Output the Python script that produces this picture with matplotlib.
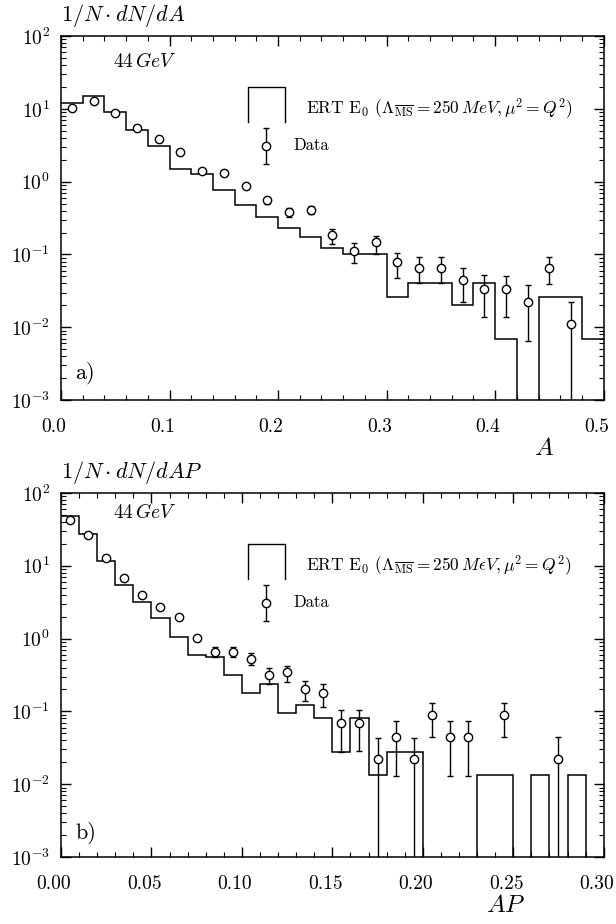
import numpy as np
import matplotlib
matplotlib.use("Agg")
import matplotlib.pyplot as plt
import matplotlib.transforms as mtransforms
from matplotlib.ticker import LogLocator, MultipleLocator, NullFormatter, FormatStrFormatter

plt.rcParams.update({
    'font.family': 'serif',
    'font.serif': ['cmr10', 'DejaVu Serif'],
    'mathtext.fontset': 'cm',
    'axes.formatter.use_mathtext': True,
    'font.size': 13,
    'axes.linewidth': 1.1,
})

# ── panel a: A distribution (bin width 0.02) ──
a_edges = np.arange(0, 0.5001, 0.02)
a_mc = [12.1, 15.1, 9.1, 5.1, 3.1, 1.49, 1.27, 0.77, 0.477, 0.323, 0.228, 0.172, 0.121,
        0.101, 0.101, 0.0263, 0.0401, 0.0401, 0.0202, 0.0401, 0.0068, 0.0, 0.0263, 0.0263, 0.0068]
a_x = [0.01, 0.03, 0.05, 0.07, 0.09, 0.11, 0.13, 0.15, 0.17, 0.19, 0.21, 0.23,
       0.25, 0.27, 0.29, 0.31, 0.33, 0.35, 0.37, 0.39, 0.41, 0.43, 0.45, 0.47]
a_val = [10.4, 12.9, 8.7, 5.5, 3.85, 2.58, 1.41, 1.30, 0.87, 0.558, 0.378, 0.407,
         0.185, 0.112, 0.147, 0.078, 0.066, 0.066, 0.0445, 0.0331, 0.0331, 0.022, 0.066, 0.011]
a_lo = [9.9, 12.2, 8.3, 5.25, 3.65, 2.45, 1.33, 1.22, 0.81, 0.50, 0.33, 0.36,
        0.138, 0.077, 0.101, 0.048, 0.040, 0.040, 0.0224, 0.0139, 0.0139, 0.0065, 0.0397, 0.0]
a_hi = [10.9, 13.6, 9.1, 5.75, 4.05, 2.71, 1.49, 1.38, 0.93, 0.62, 0.43, 0.46,
        0.223, 0.145, 0.18, 0.105, 0.093, 0.093, 0.0656, 0.052, 0.051, 0.038, 0.093, 0.022]

# ── panel b: AP distribution (bin width 0.01) ──
b_edges = np.arange(0, 0.3001, 0.01)
b_mc = [48.8, 27.4, 11.7, 5.45, 3.21, 1.94, 1.06, 0.595, 0.553, 0.316, 0.181, 0.238, 0.094,
        0.122, 0.080, 0.0274, 0.080, 0.0134, 0.0274, 0.0274, 0.0, 0.0, 0.0, 0.0134, 0.0134,
        0.0, 0.0134, 0.0, 0.0134, 0.0]
b_x = [0.005, 0.015, 0.025, 0.035, 0.045, 0.055, 0.065, 0.075, 0.085, 0.095, 0.105, 0.115,
       0.125, 0.135, 0.145, 0.155, 0.165, 0.175, 0.185, 0.195, 0.205, 0.215, 0.225, 0.245, 0.275]
b_val = [42.6, 26.5, 12.7, 6.87, 3.97, 2.75, 2.0, 1.03, 0.65, 0.66, 0.52, 0.316, 0.351,
         0.203, 0.177, 0.0686, 0.0686, 0.0222, 0.044, 0.0222, 0.089, 0.044, 0.044, 0.089, 0.0222]
b_lo = [40.5, 25.2, 12.1, 6.5, 3.75, 2.6, 1.88, 0.96, 0.553, 0.553, 0.44, 0.235, 0.25,
        0.139, 0.114, 0.028, 0.0283, 0.0, 0.013, 0.0, 0.044, 0.013, 0.013, 0.044, 0.0]
b_hi = [44.8, 27.8, 13.3, 7.25, 4.2, 2.9, 2.12, 1.1, 0.775, 0.775, 0.63, 0.39, 0.425,
        0.262, 0.238, 0.105, 0.104, 0.0437, 0.074, 0.0437, 0.132, 0.074, 0.074, 0.132, 0.044]

ert_a = r'ERT E$_0$ ($\Lambda_{\overline{\rm MS}} = 250\,MeV, \mu^2 = Q^2$)'
ert_b = r'ERT E$_0$ ($\Lambda_{\overline{\rm MS}} = 250\,M\epsilon V, \mu^2 = Q^2$)'

pt_style = dict(fmt='o', ms=6, mfc='white', mec='black', mew=1.0, ecolor='black',
                elinewidth=1.0, capsize=2.5, capthick=1.0)


def draw_panel(ax, edges, mc, x, val, lo, hi, xmax, major, minor, fmt,
               ylab, xlab, xlab_pos, tag, tag_y, gev_y, ert):
    ax.set_yscale('log')
    ax.stairs(mc, edges, color='black', linewidth=1.1, baseline=None, zorder=2)
    val = np.array(val)
    yerr = [val - np.array(lo), np.array(hi) - val]
    ax.errorbar(x, val, yerr=yerr, zorder=3, **pt_style)

    ax.set_xlim(0, xmax)
    ax.set_ylim(1e-3, 1e2)
    ax.xaxis.set_major_locator(MultipleLocator(major))
    ax.xaxis.set_minor_locator(MultipleLocator(minor))
    ax.xaxis.set_major_formatter(FormatStrFormatter(fmt))
    ax.yaxis.set_major_locator(LogLocator(base=10, numticks=10))
    ax.yaxis.set_minor_locator(LogLocator(base=10, subs=np.arange(2, 10), numticks=10))
    ax.yaxis.set_minor_formatter(NullFormatter())
    ax.tick_params(which='both', direction='in', top=True, right=True)
    ax.tick_params(which='major', length=7, width=1.0, labelsize=14)
    ax.tick_params(which='minor', length=3.5, width=0.8)
    ax.tick_params(axis='x', which='major', pad=13)
    ax.tick_params(axis='y', which='major', pad=8)

    ax.text(0.0, 1.018, ylab, transform=ax.transAxes, fontsize=16, ha='left', va='bottom')
    ax.text(xlab_pos, -0.105, xlab, transform=ax.transAxes, fontsize=18, ha='center', va='top')
    ax.text(0.026, tag_y, tag, transform=ax.transAxes, fontsize=16, ha='left', va='center')
    ax.text(0.096, gev_y, r'44$\,GeV$', transform=ax.transAxes, fontsize=14,
            ha='left', va='center')

    # legend drawn by hand
    ax.plot([0.344, 0.344, 0.413, 0.413], [0.764, 0.86, 0.86, 0.764], transform=ax.transAxes,
            color='black', linewidth=1.0, clip_on=False)
    ax.text(0.451, 0.802, ert, transform=ax.transAxes, fontsize=12.5, ha='left', va='center')
    ax.errorbar([0.378], [0.698], yerr=[[0.05], [0.05]], transform=ax.transAxes, **pt_style)
    ax.text(0.429, 0.70, 'Data', transform=ax.transAxes, fontsize=12, ha='left', va='center')


fig = plt.figure(figsize=(6.16, 9.24), dpi=100)
ax1 = fig.add_axes([0.099, 0.567, 0.881, 0.394])
ax2 = fig.add_axes([0.099, 0.0725, 0.881, 0.394])

draw_panel(ax1, a_edges, a_mc, a_x, a_val, a_lo, a_hi, 0.5, 0.1, 0.02, '%.1f',
           r'$1/N\cdot dN/dA$', r'$A$', 0.89, 'a)', 0.074, 0.93, ert_a)
draw_panel(ax2, b_edges, b_mc, b_x, b_val, b_lo, b_hi, 0.30, 0.05, 0.01, '%.2f',
           r'$1/N\cdot dN/dAP$', r'$AP$', 0.82, 'b)', 0.066, 0.945, ert_b)

# the x tick labels in the original sit a little left of their ticks
fig.canvas.draw()
shift = mtransforms.ScaledTranslation(-7 / 100, 0, fig.dpi_scale_trans)
for ax in (ax1, ax2):
    for lab in ax.get_xticklabels():
        lab.set_transform(lab.get_transform() + shift)

fig.savefig('out.png', dpi=100, facecolor='white')
